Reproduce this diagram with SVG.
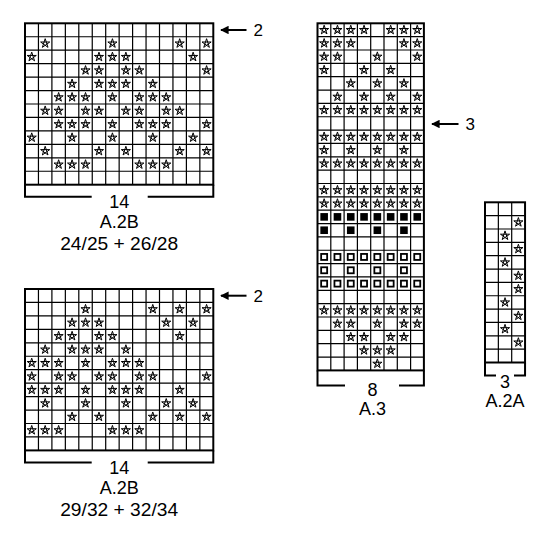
<svg xmlns="http://www.w3.org/2000/svg" width="550" height="544" viewBox="0 0 550 544">
<style>
.gl{fill:none;stroke:#000;stroke-width:1.2}
.bd{fill:none;stroke:#000;stroke-width:2}
.br{fill:none;stroke:#000;stroke-width:2}
.t{font-family:"Liberation Sans",Arial,sans-serif;font-size:18px;fill:#000;text-anchor:middle}
.n{font-family:"Liberation Sans",Arial,sans-serif;font-size:17px;fill:#000}
.ar{stroke:#000;stroke-width:2;fill:none}
</style>
<defs>
<path id="s" d="M0,-4.8L2.82,3.88L-4.57,-1.48L4.57,-1.48L-2.82,3.88Z" fill="none" stroke="#000" stroke-width="1"/>
<rect id="k" x="-3.8" y="-3.8" width="7.6" height="7.6" fill="#000"/>
<rect id="h" x="-3" y="-3" width="6" height="6" fill="none" stroke="#000" stroke-width="1.8"/>
<g id="r8"><use href="#s" x="6.65"/><use href="#s" x="19.95"/><use href="#s" x="33.25"/><use href="#s" x="46.55"/><use href="#s" x="59.85"/><use href="#s" x="73.15"/><use href="#s" x="86.45"/><use href="#s" x="99.75"/></g>
<g id="r4"><use href="#s" x="6.65"/><use href="#s" x="33.25"/><use href="#s" x="59.85"/><use href="#s" x="86.45"/></g>
<g id="k8"><use href="#k" x="6.65"/><use href="#k" x="19.95"/><use href="#k" x="33.25"/><use href="#k" x="46.55"/><use href="#k" x="59.85"/><use href="#k" x="73.15"/><use href="#k" x="86.45"/><use href="#k" x="99.75"/></g>
<g id="k4"><use href="#k" x="6.65"/><use href="#k" x="33.25"/><use href="#k" x="59.85"/><use href="#k" x="86.45"/></g>
<g id="h8"><use href="#h" x="6.65"/><use href="#h" x="19.95"/><use href="#h" x="33.25"/><use href="#h" x="46.55"/><use href="#h" x="59.85"/><use href="#h" x="73.15"/><use href="#h" x="86.45"/><use href="#h" x="99.75"/></g>
<g id="h4"><use href="#h" x="6.65"/><use href="#h" x="33.25"/><use href="#h" x="59.85"/><use href="#h" x="86.45"/></g>
<path id="grid14" class="gl" d="M13.45,0V161.4M26.9,0V161.4M40.35,0V161.4M53.8,0V161.4M67.25,0V161.4M80.7,0V161.4M94.15,0V161.4M107.6,0V161.4M121.05,0V161.4M134.5,0V161.4M147.95,0V161.4M161.4,0V161.4M174.85,0V161.4M0,13.45H188.3M0,26.9H188.3M0,40.35H188.3M0,53.8H188.3M0,67.25H188.3M0,80.7H188.3M0,94.15H188.3M0,107.6H188.3M0,121.05H188.3M0,134.5H188.3M0,147.95H188.3"/>
<marker id="ah" viewBox="0 0 10 10" refX="9" refY="5" markerWidth="9" markerHeight="8.5" markerUnits="userSpaceOnUse" orient="auto"><path d="M0,0L10,5L0,10Z" fill="#000"/></marker>
</defs>

<g id="chart-a2b-1" transform="translate(25,23.3)">
<use href="#grid14"/>
<rect class="bd" x="0" y="0" width="188.3" height="161.4"/>
<g>
<use href="#s" x="20.18" y="20.18"/><use href="#s" x="87.43" y="20.18"/><use href="#s" x="154.68" y="20.18"/><use href="#s" x="181.58" y="20.18"/>
<use href="#s" x="6.73" y="33.63"/><use href="#s" x="73.98" y="33.63"/><use href="#s" x="87.43" y="33.63"/><use href="#s" x="100.88" y="33.63"/><use href="#s" x="168.13" y="33.63"/>
<use href="#s" x="60.53" y="47.08"/><use href="#s" x="73.98" y="47.08"/><use href="#s" x="100.88" y="47.08"/><use href="#s" x="114.33" y="47.08"/><use href="#s" x="181.58" y="47.08"/>
<use href="#s" x="47.08" y="60.53"/><use href="#s" x="73.98" y="60.53"/><use href="#s" x="87.43" y="60.53"/><use href="#s" x="100.88" y="60.53"/><use href="#s" x="127.78" y="60.53"/>
<use href="#s" x="33.63" y="73.98"/><use href="#s" x="47.08" y="73.98"/><use href="#s" x="60.53" y="73.98"/><use href="#s" x="87.43" y="73.98"/><use href="#s" x="114.33" y="73.98"/><use href="#s" x="127.78" y="73.98"/><use href="#s" x="141.23" y="73.98"/>
<use href="#s" x="20.18" y="87.43"/><use href="#s" x="33.63" y="87.43"/><use href="#s" x="60.53" y="87.43"/><use href="#s" x="73.98" y="87.43"/><use href="#s" x="100.88" y="87.43"/><use href="#s" x="114.33" y="87.43"/><use href="#s" x="141.23" y="87.43"/><use href="#s" x="154.68" y="87.43"/>
<use href="#s" x="33.63" y="100.88"/><use href="#s" x="47.08" y="100.88"/><use href="#s" x="60.53" y="100.88"/><use href="#s" x="87.43" y="100.88"/><use href="#s" x="114.33" y="100.88"/><use href="#s" x="127.78" y="100.88"/><use href="#s" x="141.23" y="100.88"/><use href="#s" x="181.58" y="100.88"/>
<use href="#s" x="6.73" y="114.33"/><use href="#s" x="47.08" y="114.33"/><use href="#s" x="87.43" y="114.33"/><use href="#s" x="127.78" y="114.33"/><use href="#s" x="168.13" y="114.33"/>
<use href="#s" x="20.18" y="127.78"/><use href="#s" x="73.98" y="127.78"/><use href="#s" x="100.88" y="127.78"/><use href="#s" x="154.68" y="127.78"/><use href="#s" x="181.58" y="127.78"/>
<use href="#s" x="33.63" y="141.23"/><use href="#s" x="47.08" y="141.23"/><use href="#s" x="60.53" y="141.23"/><use href="#s" x="114.33" y="141.23"/><use href="#s" x="127.78" y="141.23"/><use href="#s" x="141.23" y="141.23"/>
</g>
<path class="br" d="M0,161.4V173.4H66.7M122.7,173.4H188.3V161.4"/>
<text class="t" x="94.2" y="184.5">14</text>
<text class="t" x="94.2" y="205">A.2B</text>
<text class="t" x="94.2" y="226.8" textLength="118" lengthAdjust="spacingAndGlyphs">24/25 + 26/28</text>
</g>

<g id="chart-a2b-2" transform="translate(25,289)">
<use href="#grid14"/>
<rect class="bd" x="0" y="0" width="188.3" height="161.4"/>
<g>
<use href="#s" x="60.53" y="20.18"/><use href="#s" x="127.78" y="20.18"/><use href="#s" x="154.68" y="20.18"/><use href="#s" x="181.58" y="20.18"/>
<use href="#s" x="47.08" y="33.63"/><use href="#s" x="60.53" y="33.63"/><use href="#s" x="73.98" y="33.63"/><use href="#s" x="141.23" y="33.63"/><use href="#s" x="168.13" y="33.63"/>
<use href="#s" x="33.63" y="47.08"/><use href="#s" x="47.08" y="47.08"/><use href="#s" x="73.98" y="47.08"/><use href="#s" x="87.43" y="47.08"/><use href="#s" x="154.68" y="47.08"/>
<use href="#s" x="20.18" y="60.53"/><use href="#s" x="47.08" y="60.53"/><use href="#s" x="60.53" y="60.53"/><use href="#s" x="73.98" y="60.53"/><use href="#s" x="100.88" y="60.53"/>
<use href="#s" x="6.73" y="73.98"/><use href="#s" x="20.18" y="73.98"/><use href="#s" x="33.63" y="73.98"/><use href="#s" x="60.53" y="73.98"/><use href="#s" x="87.43" y="73.98"/><use href="#s" x="100.88" y="73.98"/><use href="#s" x="114.33" y="73.98"/>
<use href="#s" x="6.73" y="87.43"/><use href="#s" x="33.63" y="87.43"/><use href="#s" x="47.08" y="87.43"/><use href="#s" x="73.98" y="87.43"/><use href="#s" x="87.43" y="87.43"/><use href="#s" x="114.33" y="87.43"/><use href="#s" x="127.78" y="87.43"/><use href="#s" x="181.58" y="87.43"/>
<use href="#s" x="6.73" y="100.88"/><use href="#s" x="20.18" y="100.88"/><use href="#s" x="33.63" y="100.88"/><use href="#s" x="60.53" y="100.88"/><use href="#s" x="87.43" y="100.88"/><use href="#s" x="100.88" y="100.88"/><use href="#s" x="114.33" y="100.88"/><use href="#s" x="154.68" y="100.88"/>
<use href="#s" x="20.18" y="114.33"/><use href="#s" x="60.53" y="114.33"/><use href="#s" x="100.88" y="114.33"/><use href="#s" x="141.23" y="114.33"/><use href="#s" x="168.13" y="114.33"/>
<use href="#s" x="47.08" y="127.78"/><use href="#s" x="73.98" y="127.78"/><use href="#s" x="127.78" y="127.78"/><use href="#s" x="154.68" y="127.78"/><use href="#s" x="181.58" y="127.78"/>
<use href="#s" x="6.73" y="141.23"/><use href="#s" x="20.18" y="141.23"/><use href="#s" x="33.63" y="141.23"/><use href="#s" x="87.43" y="141.23"/><use href="#s" x="100.88" y="141.23"/><use href="#s" x="114.33" y="141.23"/>
</g>
<path class="br" d="M0,161.4V173.4H66.7M122.7,173.4H188.3V161.4"/>
<text class="t" x="94.2" y="184.5">14</text>
<text class="t" x="94.2" y="205">A.2B</text>
<text class="t" x="94.2" y="226.8" textLength="118" lengthAdjust="spacingAndGlyphs">29/32 + 32/34</text>
</g>

<g id="chart-a3" transform="translate(317.5,23.3)">
<path class="gl" d="M13.3,0V347.1M26.6,0V347.1M39.9,0V347.1M53.2,0V347.1M66.5,0V347.1M79.8,0V347.1M93.1,0V347.1M0,13.35H106.4M0,26.7H106.4M0,40.05H106.4M0,53.4H106.4M0,66.75H106.4M0,80.1H106.4M0,93.45H106.4M0,106.8H106.4M0,120.15H106.4M0,133.5H106.4M0,146.85H106.4M0,160.2H106.4M0,173.55H106.4M0,186.9H106.4M0,200.25H106.4M0,213.6H106.4M0,226.95H106.4M0,240.3H106.4M0,253.65H106.4M0,267H106.4M0,280.35H106.4M0,293.7H106.4M0,307.05H106.4M0,320.4H106.4M0,333.75H106.4"/>
<rect class="bd" x="0" y="0" width="106.4" height="347.1"/>
<g>
<use href="#s" x="6.65" y="6.68"/><use href="#s" x="19.95" y="6.68"/><use href="#s" x="33.25" y="6.68"/><use href="#s" x="46.55" y="6.68"/><use href="#s" x="73.15" y="6.68"/><use href="#s" x="86.45" y="6.68"/><use href="#s" x="99.75" y="6.68"/>
<use href="#s" x="6.65" y="20.03"/><use href="#s" x="19.95" y="20.03"/><use href="#s" x="33.25" y="20.03"/><use href="#s" x="86.45" y="20.03"/><use href="#s" x="99.75" y="20.03"/>
<use href="#s" x="6.65" y="33.38"/><use href="#s" x="19.95" y="33.38"/><use href="#s" x="59.85" y="33.38"/><use href="#s" x="99.75" y="33.38"/>
<use href="#s" x="6.65" y="46.73"/><use href="#s" x="46.55" y="46.73"/><use href="#s" x="73.15" y="46.73"/>
<use href="#s" x="33.25" y="60.08"/><use href="#s" x="59.85" y="60.08"/><use href="#s" x="86.45" y="60.08"/>
<use href="#s" x="19.95" y="73.43"/><use href="#s" x="46.55" y="73.43"/><use href="#s" x="73.15" y="73.43"/><use href="#s" x="99.75" y="73.43"/>
<use href="#r8" y="86.78"/>
<use href="#r8" y="113.48"/>
<use href="#r4" y="126.83"/>
<use href="#r8" y="140.18"/>
<use href="#r8" y="166.88"/>
<use href="#r8" y="180.23"/>
<use href="#k8" y="193.58"/>
<use href="#k4" y="206.93"/>
<use href="#h8" y="233.63"/>
<use href="#h4" y="246.98"/>
<use href="#h8" y="260.33"/>
<use href="#r8" y="287.03"/>
<use href="#s" x="19.95" y="300.38"/><use href="#s" x="33.25" y="300.38"/><use href="#s" x="59.85" y="300.38"/><use href="#s" x="86.45" y="300.38"/><use href="#s" x="99.75" y="300.38"/>
<use href="#s" x="33.25" y="313.73"/><use href="#s" x="46.55" y="313.73"/><use href="#s" x="73.15" y="313.73"/><use href="#s" x="86.45" y="313.73"/>
<use href="#s" x="46.55" y="327.08"/><use href="#s" x="59.85" y="327.08"/><use href="#s" x="73.15" y="327.08"/>
<use href="#s" x="59.85" y="340.43"/>
</g>
<path class="br" d="M0,347.1V362.2H27.5M81.5,362.2H106.4V347.1"/>
<text class="t" x="55" y="372.5">8</text>
<text class="t" x="55" y="392">A.3</text>
</g>

<g id="chart-a2a" transform="translate(485,202.3)">
<path class="gl" d="M13.35,0V160.2M26.7,0V160.2M0,13.35H40.05M0,26.7H40.05M0,40.05H40.05M0,53.4H40.05M0,66.75H40.05M0,80.1H40.05M0,93.45H40.05M0,106.8H40.05M0,120.15H40.05M0,133.5H40.05M0,146.85H40.05"/>
<rect class="bd" x="0" y="0" width="40.05" height="160.2"/>
<g>
<use href="#s" x="33.38" y="20.03"/><use href="#s" x="20.03" y="33.38"/><use href="#s" x="33.38" y="46.73"/><use href="#s" x="20.03" y="60.08"/><use href="#s" x="33.38" y="73.43"/><use href="#s" x="33.38" y="86.78"/><use href="#s" x="20.03" y="100.13"/><use href="#s" x="33.38" y="113.48"/><use href="#s" x="20.03" y="126.83"/><use href="#s" x="33.38" y="140.18"/>
</g>
<path class="br" d="M0,160.2V173.2H11M29,173.2H40.05V160.2"/>
<text class="t" x="20" y="186">3</text>
<text class="t" x="20" y="204.8">A.2A</text>
</g>

<g id="connectors">
<line class="ar" x1="246.5" y1="30" x2="221" y2="30" marker-end="url(#ah)"/>
<line class="ar" x1="246.5" y1="295.7" x2="221" y2="295.7" marker-end="url(#ah)"/>
<line class="ar" x1="458.5" y1="124" x2="432" y2="124" marker-end="url(#ah)"/>
</g>
<g id="arrow-labels">
<text class="n" x="253.5" y="36">2</text>
<text class="n" x="253.5" y="301.7">2</text>
<text class="n" x="465.5" y="130">3</text>
</g>
</svg>
